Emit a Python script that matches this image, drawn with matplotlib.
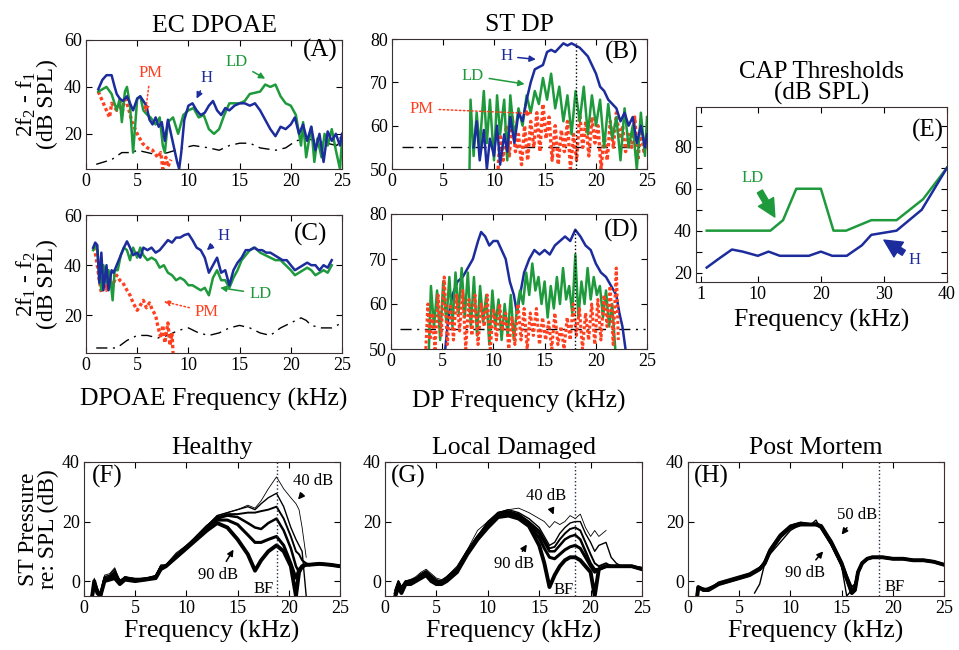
import numpy as np
import matplotlib.pyplot as plt
from matplotlib.ticker import AutoMinorLocator

plt.rcParams['font.family'] = ['Liberation Serif', 'DejaVu Serif']
plt.rcParams['mathtext.fontset'] = 'custom'
plt.rcParams['mathtext.rm'] = 'Liberation Serif'
plt.rcParams['mathtext.default'] = 'regular'
plt.rcParams['xtick.direction'] = 'in'
plt.rcParams['ytick.direction'] = 'in'
plt.rcParams['xtick.top'] = True
plt.rcParams['ytick.right'] = True
plt.rcParams['xtick.labelsize'] = 13
plt.rcParams['ytick.labelsize'] = 13
plt.rcParams['axes.edgecolor'] = '#3a3030'

BLUE = '#1c2c9c'
GREEN = '#1e9a3c'
RED = '#ff4020'

# ---- panel A : 2f2-f1 DPOAE ----
a_h_x = [1.2,1.6,2.0,2.5,2.8,3.0,3.3,3.6,4.0,4.3,4.6,5.0,5.3,5.6,5.9,6.2,6.5,6.8,7.1,7.4,7.7,8.0,8.3,8.6,8.9,9.1,9.3,9.6,10.0,10.4,10.8,11.2,11.6,12.0,12.4,12.8,13.2,13.6,14.0,14.5,15.0,15.5,16.0,16.5,17.0,17.5,18.0,18.5,19.0,19.5,20.0,20.4,20.8,21.2,21.6,22.0,22.4,22.8,23.2,23.6,24.0,24.4,24.8,25.0]
a_h_y = [39,43,45,45,40,37,35,34,36,33,30,35,36,34,32,26,24,27,23,25,17,26,20,14,8,5,12,26,32,33,30,28,29,32,34,30,28,31,30,32,33,33,32,33,30,26,22,19,23,22,24,27,20,24,17,23,13,20,8,21,17,20,15,20]
a_ld_x = [1.2,1.6,2.0,2.5,3.0,3.3,3.5,3.8,4.0,4.3,4.6,5.0,5.3,5.6,6.0,6.3,6.8,7.2,7.5,7.7,8.0,8.5,9.0,9.5,10.0,10.5,11.0,11.5,12.0,12.5,13.0,13.5,14.0,15.0,15.5,16.0,17.0,17.5,18.0,18.5,19.0,19.5,20.0,20.5,21.0,21.2,21.5,22.0,22.3,22.6,23.0,23.3,23.6,24.0,24.4,24.8,25.0]
a_ld_y = [38,39,40,37,30,35,25,38,40,32,12,35,36,30,28,27,24,27,15,12,25,27,20,28,30,31,27,28,22,20,22,28,33,33,34,37,38,41,40,41,36,33,32,28,15,25,10,23,8,18,10,20,15,22,13,5,17]
a_pm_x = [1.2,1.5,2.0,2.3,2.5,3.0,3.3,3.5,3.8,4.2,4.5,5.0,5.5,6.0,6.5,7.0,7.3,7.5,7.8,8.0,8.3]
a_pm_y = [38,35,30,27,33,30,34,28,36,30,25,20,16,14,13,10,12,5,10,6,9]
a_nf_x = [1.0,2.5,3.5,4.5,5.0,6.0,7.0,8.0,9.5,10.5,12.0,13.0,14.0,15.0,16.0,17.0,18.5,19.5,20.5,21.5,22.5,23.5,24.5,25.0]
a_nf_y = [7,9,12,12,13,12,11,12,14,15,14,13,15,16,16,14,13,14,17,18,17,16,15,20]

# ---- panel B : ST DP at 2f2-f1 ----
b_h_x = [8.0,8.3,8.6,9.0,9.3,9.6,10.0,10.3,10.6,11.0,11.3,11.6,12.0,12.4,12.8,13.2,13.6,14.0,14.4,14.8,15.2,15.6,16.0,16.4,16.8,17.2,17.6,18.0,18.4,18.8,19.2,19.6,20.0,20.4,20.8,21.2,21.6,22.0,22.4,22.8,23.2,23.6,24.0,24.4,24.8,25.0]
b_h_y = [55,61,52,59,50,57,53,60,51,58,54,62,56,63,61,66,70,73,73.5,74,77,77.5,77,78,79,78.5,79,78.5,78,77,76,74,72,69,68,66,65,64,61,63,60,62,56,60,55,58]
b_ld_x = [7.6,7.7,8.0,8.3,8.6,9.0,9.3,9.6,10.0,10.3,10.6,11.0,11.3,11.6,12.0,12.4,12.8,13.2,13.6,14.0,14.4,14.8,15.2,15.6,16.0,16.4,16.8,17.2,17.6,18.0,18.4,18.8,19.2,19.6,20.0,20.4,20.8,21.2,21.6,22.0,22.4,22.8,23.2,23.6,24.0,24.4,24.8,25.0]
b_ld_y = [50,66,53,63,55,68,56,66,52,67,58,66,52,67,57,64,60,67,63,68,65,71,66,72,64,69,61,67,58,68,61,69,58,67,60,66,55,65,57,62,52,64,55,60,50,63,53,62]
b_pm_x = [10.4,10.6,10.9,11.2,11.5,11.8,12.1,12.4,12.7,13.0,13.3,13.6,13.9,14.2,14.5,14.8,15.1,15.4,15.7,16.0,16.3,16.6,16.9,17.2,17.5,17.8,18.1,18.4,18.7,19.0,19.3,19.6,19.9,20.2,20.5,20.8,21.1,21.4,21.7,22.0,22.3,22.6,22.9,23.2,23.5,23.8,24.1,24.4,24.7,25.0]
b_pm_y = [50,58,52,60,53,62,54,58,51,60,52,61,55,63,54,65,57,62,52,60,51,59,54,61,50,58,52,63,55,61,53,62,56,60,50,58,52,61,55,63,57,60,54,58,55,62,52,59,54,56]
b_nf_x = [1.0,25.0]
b_nf_y = [55,55]

# ---- panel C : 2f1-f2 DPOAE ----
c_h_x = [0.7,0.9,1.1,1.3,1.5,1.7,2.0,2.2,2.5,2.7,3.0,3.3,3.7,4.0,4.3,4.6,5.0,5.3,5.6,6.0,6.4,6.8,7.2,7.6,8.0,8.4,8.8,9.2,9.6,10.0,10.4,10.8,11.2,11.6,12.0,12.4,12.8,13.2,13.6,14.0,14.4,14.8,15.2,15.6,16.0,16.4,16.8,17.2,17.6,18.0,18.4,18.8,19.2,19.6,20.0,20.4,20.8,21.2,21.6,22.0,22.4,22.8,23.2,23.6,24.0]
c_h_y = [47,49,48,33,45,30,40,30,38,37,40,43,47,49.5,47,44,45,43,47,46,47,45,46,48,50,49,51,51,52,52.5,50,47,46,43,37,40,43,37,38,32,38,41,43,46,46,47,46,46,45,45,44,43,42,42,40,38,39,40,41,40,40,38,40,39,42]
c_ld_x = [0.7,0.9,1.1,1.3,1.5,1.7,2.0,2.2,2.4,2.6,2.8,3.1,3.4,3.7,4.0,4.3,4.6,5.0,5.3,5.6,6.0,6.4,6.8,7.2,7.6,8.0,8.4,8.8,9.2,9.6,10.0,10.4,10.8,11.2,11.6,12.0,12.4,12.8,13.2,13.6,14.0,14.4,14.8,15.2,15.6,16.0,16.5,17.0,17.5,18.0,18.5,19.0,19.5,20.0,20.4,20.8,21.2,21.6,22.0,22.4,22.8,23.2,23.6,24.0]
c_ld_y = [46,48,46,36,30,40,33,38,34,26,38,38,44,47,46,42,47,43,47,44,42,43,42,39,40,37,36,34,35,34,32,32,31,30,31,28,35,38,34,34,31,35,38,42,44,46,47,45,44,43,42,42,40,38,36,37,38,39,38,36,37,38,37,40]
c_pm_x = [0.7,0.9,1.1,1.3,1.5,1.7,2.0,2.3,2.6,3.0,3.3,3.6,4.0,4.3,4.6,5.0,5.3,5.6,5.9,6.2,6.5,6.8,7.0,7.3,7.5,7.7,8.0,8.2,8.4,8.5]
c_pm_y = [47,45,40,34,29,37,30,35,32,36,34,33,30,28,25,22,24,26,23,25,22,20,16,11,16,9,17,8,13,5]
c_nf_x = [1.0,3.0,4.0,5.0,6.0,7.0,8.0,9.0,10.0,11.0,12.0,13.0,14.0,15.0,16.0,17.0,18.0,19.0,20.0,21.0,21.5,22.0,23.0,24.0,25.0]
c_nf_y = [7,7,10,12,12,11,12,14,15,13,12,13,15,16,15,13,12,15,17,19,18,16,15,15,17]

# ---- panel D : ST DP at 2f1-f2 ----
d_h_x = [5.3,5.6,6.0,6.5,7.0,7.5,8.0,8.5,8.8,9.2,9.6,10.0,10.4,10.8,11.2,11.6,12.0,12.3,12.6,13.0,13.5,14.0,14.5,15.0,15.5,16.0,16.5,17.0,17.5,18.0,18.5,19.0,19.5,20.0,20.5,21.0,21.5,22.0,22.3,22.6,22.9]
d_h_y = [50,57,62,65,66,68,70,74,76,75,73,74,74,72,70,65,62,58,62,67,70,72,71,72,71,73,74,75,74,76.5,75,73,72,69,67,66,64,62,58,55,50]
d_ld_x = [3.7,3.9,4.2,4.5,4.8,5.1,5.4,5.7,6.0,6.3,6.6,6.9,7.2,7.5,7.8,8.1,8.4,8.7,9.0,9.3,9.6,9.9,10.2,10.5,10.8,11.1,11.4,11.7,12.0,12.3,12.6,12.9,13.2,13.5,13.8,14.1,14.4,14.7,15.0,15.3,15.6,15.9,16.2,16.5,16.8,17.1,17.4,17.7,18.0,18.3,18.6,18.9,19.2,19.5,19.8,20.1,20.4,20.7,21.0,21.3,21.6,21.9]
d_ld_y = [50,64,55,63,52,65,56,66,55,67,58,68,57,67,55,66,53,64,56,62,51,63,55,61,52,60,53,62,52,59,63,60,67,62,69,63,66,60,65,57,64,59,66,60,68,61,64,58,71,57,65,60,68,61,66,62,64,57,63,55,60,50]
d_pm_x = [3.4,3.6,3.8,4.0,4.3,4.6,4.9,5.2,5.5,5.8,6.1,6.4,6.7,7.0,7.3,7.6,7.9,8.2,8.5,8.8,9.1,9.4,9.7,10.0,10.3,10.6,10.9,11.2,11.5,11.8,12.1,12.4,12.7,13.0,13.3,13.6,13.9,14.2,14.5,14.8,15.1,15.4,15.7,16.0,16.3,16.6,16.9,17.2,17.5,17.8,18.1,18.4,18.7,19.0,19.3,19.6,19.9,20.2,20.5,20.8,21.1,21.4,21.7,22.0,22.2]
d_pm_y = [50,60,52,58,50,62,53,66,51,60,52,62,54,63,50,61,53,62,51,60,55,62,50,59,52,60,54,58,50,57,51,60,52,59,50,58,53,59,51,57,52,56,50,58,51,55,50,57,52,60,53,59,50,58,52,60,51,61,52,62,55,64,51,68,52]
d_nf_x = [0.9,24.8]
d_nf_y = [54.5,54.5]

# ---- panel E : CAP thresholds ----
e_h_x = [1.9,4.0,5.9,7.6,10.0,11.7,13.5,16.0,18.1,20.0,21.8,24.1,26.5,28.0,30.0,32.0,34.0,36.0,38.0,40.0]
e_h_y = [22.4,27,31,30,28,30,28,28,28,30,28,28,33,38,39,40,45,50,60,70]
e_ld_x = [1.9,12.0,14.0,16.1,20.0,22.0,24.0,28.0,32.0,36.2,40.0]
e_ld_y = [40,40,45,60,60,40,40,45,45,55,70]

# ---- panels F-H : ST pressure vs frequency, one curve per level ----
f_x = [0.8,1.0,1.3,1.6,2.0,2.5,3.0,3.5,4.0,5.0,6.0,7.0,7.5,8.0,9.0,10.0,11.0,12.0,13.0,14.0,15.0,16.0,16.7,17.3,18.0,18.8,19.5,20.2,20.7,21.0,21.3,21.7,22.0,23.0,24.0,25.0]
f_40 = [-5,1,-3,-5,2,2.5,4.5,0,1.5,1,1,2,5.5,5.5,9.5,12,15,18.5,22,23,24,25.5,24.5,27,31,35,31,28,26,24,18,8,np.nan,np.nan,np.nan,np.nan]
f_50 = [-5,0,-3,-5,1.5,2,4,0,1.5,0.5,1,1.5,5,5.5,9,12,15,18.5,22,23,24,25,24,26,28,29.5,25,18,14,12,10,-5,np.nan,np.nan,np.nan,np.nan]
f_60 = [-5,0,-3,-5,1,1.5,3,0,1,0.5,1,1.5,5,5,8.5,11.5,15,18.5,21.5,22.5,22.5,23,23,23.5,24,25,21,15,10,9,7,6,5.5,5.8,5.5,5]
f_70 = [-5,0,-3,-5,1,1,3,0,1,0.5,0.5,1.5,4.5,5,8.5,11.5,15,18.5,21,22,21.5,19.5,18,17.5,19.5,21,17,11,5,3,4.5,5.5,5.5,5.8,5.5,5]
f_80 = [-5,-1,-3,-5,0.5,1,2,-0.5,1,0.5,0.5,1.5,4.5,5,8,11,14.5,18,20.5,20.5,19,15.5,13,13,14,15,12,6,1,4,5,5.5,5.5,5.8,5.5,5]
f_90 = [-5,0,-4,-5,0,0.5,1,-1,0.5,0,0.5,1,4,5,8,11,14,17,19.5,18,14,9,3.5,7,10,12,10,5,-5,3,5,5.5,5.5,5.8,5.5,5]

g_x = [1.0,1.3,1.6,2.0,2.5,3.0,3.5,4.0,4.5,5.0,5.5,6.0,7.0,8.0,9.0,10.0,11.0,12.0,13.0,14.0,15.0,15.5,16.0,16.5,17.0,17.5,18.0,18.5,19.0,19.5,20.0,20.4,20.8,21.5,22.0,22.5,23.0,24.0,25.0]
g_40 = [-3,0,-2,0,0.5,1.5,3,4,2.5,1,0.5,1.5,5,10.5,17,20,23,24,24.5,23,21,20,18,20,19,20,22,21,22.5,18,15,17,15,17,np.nan,np.nan,np.nan,np.nan,np.nan]
g_50 = [-3,0,-2,0,0.5,1,2.5,3.5,2,0.5,0,1.5,4.5,10,15,20,23,24,23,21,18,15,12,13,16,18,19.5,20,20,16,13,10,12,13,8,6,5,5,4.5]
g_60 = [-3,0,-2,0,0,1,2,3,1.5,0,0,1,4,10,15,19.5,23,23.5,22.5,20,17,14,11,11.5,14,16,17.5,18,17,13,9,6,5,6,5,5,5,5,4.5]
g_70 = [-4,-1,-3,-1,0,0.5,2,3,1,-0.5,-0.5,1,4,10,15,19,22.5,23,22,19.5,16,13,10,10,12,14,15,15.5,14,10,6,4,4,5,5,5,5,5,4]
g_80 = [-4,-1,-3,-1,0,0,1.5,2.5,1,-1,-0.5,0.5,3.5,9.5,14.5,18.5,22,22.5,21.5,19,14.5,11,8,7.5,9,10.5,11.5,12,11,8,5,3,4,5,5,5,5,5,4]
g_90 = [-5,-2,-4,-1,-1,0,1,2,0,-1,-1,0,3,9,14,18,21.5,22,21,18.5,12,6,-2,2,5,7,8,8,7,5,3,-5,4,5,5,5,5,5,4]

h_x = [0.9,1.0,1.5,2.0,3.0,4.0,5.0,6.0,6.5,7.0,7.5,8.0,9.0,10.0,11.0,12.0,12.5,13.0,14.0,15.0,15.5,16.0,16.3,16.6,17.0,17.5,18.0,19.0,20.0,21.0,22.0,23.0,24.0,25.0]
h_50 = [np.nan,np.nan,np.nan,np.nan,np.nan,np.nan,np.nan,np.nan,-4,-1,6,9,13,17,19,19,20.5,17.5,12,5,-5,-3,-2,3,6,7.5,8,8,7.5,7.5,7,7,6.5,5.5]
h_60 = [-5,-2,-3,-3,-1,0,1,2,3,4,5.5,9.5,14.5,18,19,19,19.5,18.5,13.5,6.5,2,-2,-1,3,6,7.5,8,8,7.5,7.5,7,7,6.5,5.5]
h_70 = [-4,-2,-2.5,-3,-0.5,0.5,1.5,2.5,3.5,4.5,6,10,15,18.5,19.5,19,19,18.5,13,6,1,-3,-2,3,6,7.5,8,8,7.5,7.5,7,7,6.5,5.5]
h_80 = [-5,-2,-3,-2.5,-1,0,1,2,3,4,6.5,10.5,15.5,18.5,19.5,19,19,18,12.5,5.5,0.5,-4,-3,3,6,7.5,8,8,7.5,7.5,7,7,6.5,5.5]
h_90 = [-5,-2,-3,-3,-1,0,1,2,3,4,6,10,15,18,19,19,19,18.5,13,6,1,-4,-3,3,6,7.5,8,8,7.5,7.5,7,7,6.5,5.5]

levels_fg = [40, 50, 60, 70, 80, 90]
levels_h = [50, 60, 70, 80, 90]
level_lw = {40: 0.6, 50: 1.0, 60: 1.4, 70: 1.8, 80: 2.2, 90: 2.8}

NF_STYLE = (0, (8, 4, 1.5, 4))
DOT_STYLE = (0, (1, 0.8))


def box(l, t, r, b):
    return [l / 959, 1 - b / 650, (r - l) / 959, (b - t) / 650]


def panel(rect, xlim, ylim, yticks, xticks=(0, 5, 10, 15, 20, 25)):
    ax = fig.add_axes(box(*rect))
    ax.set_xlim(*xlim)
    ax.set_ylim(*ylim)
    ax.set_xticks(xticks)
    ax.set_yticks(yticks)
    ax.tick_params(length=4, width=0.8, pad=3)
    return ax


def label(ax, txt, xy, xytext, color, dotted=False):
    ax.annotate(txt, xy=xy, xytext=xytext, color=color, fontsize=12,
                ha='center', va='center',
                arrowprops=dict(arrowstyle='-|>', color=color, lw=1.1,
                                ls=':' if dotted else '-', mutation_scale=9,
                                shrinkA=2, shrinkB=0))


fig = plt.figure(figsize=(9.59, 6.5), dpi=100)

# A
ax = panel((86, 40, 342, 169), (0, 25), (5, 60), [20, 40, 60])
ax.plot(a_nf_x, a_nf_y, color='k', lw=1, ls=NF_STYLE)
ax.plot(a_pm_x, a_pm_y, color=RED, lw=2.4, ls=DOT_STYLE)
ax.plot(a_ld_x, a_ld_y, color=GREEN, lw=1.8)
ax.plot(a_h_x, a_h_y, color=BLUE, lw=1.8)
ax.set_title('EC DPOAE', fontsize=18.5, pad=6)
ax.set_ylabel('2f$_2$ - f$_1$\n(dB SPL)', fontsize=17, linespacing=0.95, labelpad=4)
ax.text(22.9, 55.5, '(A)', fontsize=18, ha='center', va='center')
label(ax, 'PM', (5.8, 29), (6.3, 46), RED, dotted=True)
label(ax, 'H', (10.8, 35), (11.8, 44), BLUE)
label(ax, 'LD', (17.5, 43.5), (14.7, 50.5), GREEN)

# B
ax = panel((392, 39, 647, 169), (0, 25), (50, 80), [50, 60, 70, 80])
ax.plot(b_nf_x, b_nf_y, color='k', lw=1, ls=NF_STYLE)
ax.plot(b_pm_x, b_pm_y, color=RED, lw=2.4, ls=DOT_STYLE)
ax.plot(b_ld_x, b_ld_y, color=GREEN, lw=1.8)
ax.plot(b_h_x, b_h_y, color=BLUE, lw=1.8)
ax.plot([18, 18], [50, 79], color='k', lw=1, ls=':')
ax.set_title('ST DP', fontsize=18.5, pad=6)
ax.text(22.5, 76.8, '(B)', fontsize=18, ha='center', va='center')
label(ax, 'H', (14.1, 75.3), (11.2, 76), BLUE)
label(ax, 'LD', (13.0, 69.6), (7.9, 71.5), GREEN)
label(ax, 'PM', (13.8, 62.8), (2.9, 63.9), RED, dotted=True)

# C
ax = panel((86, 215, 342, 353), (0, 25), (5, 60), [20, 40, 60])
ax.plot(c_nf_x, c_nf_y, color='k', lw=1, ls=NF_STYLE)
ax.plot(c_pm_x, c_pm_y, color=RED, lw=2.4, ls=DOT_STYLE)
ax.plot(c_ld_x, c_ld_y, color=GREEN, lw=1.8)
ax.plot(c_h_x, c_h_y, color=BLUE, lw=1.8)
ax.set_ylabel('2f$_1$ - f$_2$\n(dB SPL)', fontsize=17, linespacing=0.95, labelpad=4)
ax.set_xlabel('DPOAE Frequency (kHz)', fontsize=18.5, labelpad=10)
ax.text(21.9, 52.3, '(C)', fontsize=18, ha='center', va='center')
label(ax, 'H', (11.8, 46), (13.4, 51.7), BLUE)
label(ax, 'LD', (13.1, 31), (17.0, 28.6), GREEN)
label(ax, 'PM', (7.6, 25.5), (11.8, 21.4), RED, dotted=True)

# D
ax = panel((391, 214, 647, 349), (0, 25), (50, 80), [50, 60, 70, 80])
ax.plot(d_nf_x, d_nf_y, color='k', lw=1, ls=NF_STYLE)
ax.plot(d_h_x, d_h_y, color=BLUE, lw=1.8)
ax.plot(d_ld_x, d_ld_y, color=GREEN, lw=1.8)
ax.plot(d_pm_x, d_pm_y, color=RED, lw=2.2, ls=DOT_STYLE)
ax.plot([18, 18], [50, 77], color='k', lw=1, ls=':')
ax.set_xlabel('DP Frequency (kHz)', fontsize=18.5, labelpad=14)
ax.text(22.5, 76.3, '(D)', fontsize=18, ha='center', va='center')

# E
ax = panel((696, 107, 947, 282), (0.2, 40), (15.5, 99), [20, 40, 60, 80],
           xticks=(1, 10, 20, 30, 40))
ax.yaxis.set_minor_locator(AutoMinorLocator(2))
ax.tick_params(which='minor', length=4, width=0.8)
ax.plot(e_ld_x, e_ld_y, color=GREEN, lw=1.8)
ax.plot(e_h_x, e_h_y, color=BLUE, lw=1.8)
ax.set_title('CAP Thresholds\n(dB SPL)', fontsize=18, linespacing=0.95, pad=5)
ax.set_xlabel('Frequency (kHz)', fontsize=18.5, labelpad=4)
ax.text(37, 88, '(E)', fontsize=18, ha='center', va='center')
fat = dict(arrowstyle='simple,head_width=0.9,head_length=0.9,tail_width=0.3',
           mutation_scale=14, shrinkA=2, shrinkB=0)
ax.annotate('LD', xy=(12.7, 46.5), xytext=(9.1, 65), color=GREEN, fontsize=12,
            ha='center', va='center', arrowprops=dict(color=GREEN, **fat))
ax.annotate('H', xy=(30.0, 35.5), xytext=(34.9, 26), color=BLUE, fontsize=12,
            ha='center', va='center', arrowprops=dict(color=BLUE, **fat))

# F, G, H
rows = [
    ((84, 462, 340, 596), 'Healthy', '(F)', f_x, [f_40, f_50, f_60, f_70, f_80, f_90], levels_fg, 18.8),
    ((385, 462, 642, 596), 'Local Damaged', '(G)', g_x, [g_40, g_50, g_60, g_70, g_80, g_90], levels_fg, 18.5),
    ((688, 462, 944, 596), 'Post Mortem', '(H)', h_x, [h_50, h_60, h_70, h_80, h_90], levels_h, 18.7),
]
for i, (rect, title, tag, xs, curves, levels, bf) in enumerate(rows):
    ax = panel(rect, (0, 25), (-5, 40), [0, 20, 40])
    for lev, ys in zip(levels, curves):
        ax.plot(xs, ys, color='k', lw=level_lw[lev])
    ax.axvline(bf, color='#203040', lw=1, ls=':')
    ax.set_title(title, fontsize=18.5, pad=6)
    ax.set_xlabel('Frequency (kHz)', fontsize=18.5, labelpad=2)
    ax.text(2.3, 35, tag, fontsize=18, ha='center', va='center')
    if i == 0:
        ax.set_ylabel('ST Pressure\nre: SPL (dB)', fontsize=17, linespacing=0.95, labelpad=2)
        ax.text(17.5, -2.5, 'BF', fontsize=12, ha='center', va='center')
        label(ax, '40 dB', (20.9, 27.4), (22.4, 33.5), 'k')
        label(ax, '90 dB', (14.6, 10.6), (13.1, 2.2), 'k')
    elif i == 1:
        ax.text(17.4, -3, 'BF', fontsize=12, ha='center', va='center')
        label(ax, '40 dB', (16.4, 22.3), (15.7, 28.5), 'k')
        label(ax, '90 dB', (13.8, 12.3), (12.5, 5.6), 'k')
    else:
        ax.text(20.2, -2, 'BF', fontsize=12, ha='center', va='center')
        label(ax, '50 dB', (15.0, 15.6), (16.5, 22.3), 'k')
        label(ax, '90 dB', (13.2, 10.0), (11.4, 2.8), 'k')

fig.savefig('out.png', dpi=100)
